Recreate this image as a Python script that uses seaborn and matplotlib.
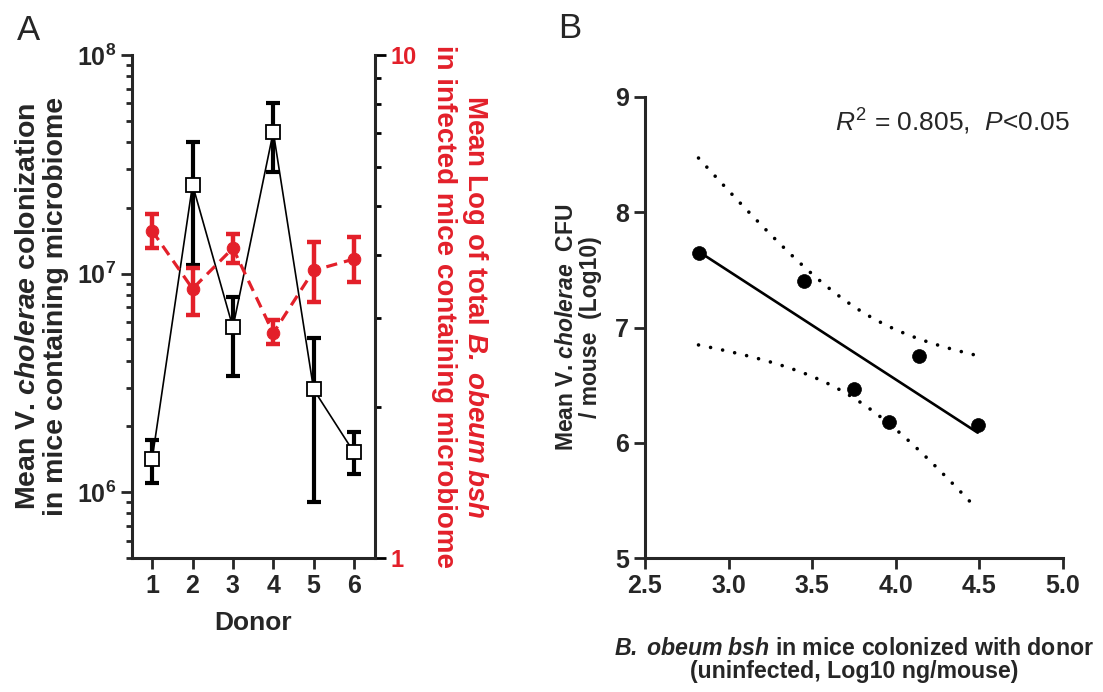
import numpy as np
import pandas as pd
import seaborn as sns
import matplotlib.pyplot as plt
from matplotlib.ticker import LogLocator, FuncFormatter, NullFormatter, FormatStrFormatter, FixedLocator

# Panel A: V. cholerae colonization (left, log) and B. obeum bsh (right, log)
donors = [1, 2, 3, 4, 5, 6]
vc_mean = [1.42e6, 2.55e7, 5.67e6, 4.45e7, 2.95e6, 1.52e6]
vc_upper = [1.73e6, 4.0e7, 7.85e6, 6.04e7, 5.05e6, 1.88e6]
vc_lower = [1.10e6, 1.09e7, 3.39e6, 2.92e7, 9.0e5, 1.21e6]

bsh_mean = [4.47, 3.43, 4.13, 2.80, 3.73, 3.93]
bsh_upper = [4.83, 3.78, 4.41, 2.97, 4.25, 4.35]
bsh_lower = [4.13, 3.04, 3.86, 2.66, 3.23, 3.54]

# Panel B: correlation between donor bsh and V. cholerae CFU
donor_bsh_log = [2.82, 3.45, 3.75, 3.96, 4.14, 4.49]
vc_cfu_log = [7.65, 7.40, 6.47, 6.18, 6.75, 6.15]

RED = '#e3202a'

sns.set_style('ticks')
plt.rcParams['font.family'] = ['Liberation Sans', 'DejaVu Sans']
plt.rcParams['font.weight'] = 'bold'
plt.rcParams['axes.labelweight'] = 'bold'
plt.rcParams['mathtext.fontset'] = 'custom'
plt.rcParams['mathtext.rm'] = 'Liberation Sans:weight=normal'
plt.rcParams['mathtext.it'] = 'Liberation Sans:style=italic:weight=normal'
plt.rcParams['mathtext.bf'] = 'Liberation Sans:weight=bold'
plt.rcParams['mathtext.bfit'] = 'Liberation Sans:style=italic:weight=bold'

fig = plt.figure(figsize=(11.03, 6.92), dpi=100)
W, H = 1103, 692

# ---------------- Panel A ----------------
axA = fig.add_axes([132 / W, 1 - 558 / H, 243 / W, 503 / H])
axA.set_yscale('log')
dfA = pd.DataFrame({'Donor': donors, 'vc': vc_mean, 'bsh': bsh_mean})

vc_m = np.array(vc_mean)
axA.errorbar(donors, vc_mean,
             yerr=[vc_m - np.array(vc_lower), np.array(vc_upper) - vc_m],
             fmt='none', ecolor='black', elinewidth=3, capsize=5, capthick=3, zorder=2)
sns.lineplot(data=dfA, x='Donor', y='vc', ax=axA, color='black', lw=1.2,
             marker='s', markersize=9.5, markerfacecolor='white',
             markeredgecolor='black', markeredgewidth=1.3, zorder=3)

axA.set_xlim(0.5, 6.52)
axA.set_ylim(5e5, 1e8)
axA.set_xticks(donors)
axA.yaxis.set_major_locator(FixedLocator([1e6, 1e7, 1e8]))
axA.yaxis.set_major_formatter(FuncFormatter(lambda v, p: r'$\mathbf{10^{%d}}$' % round(np.log10(v))))
axA.yaxis.set_minor_locator(LogLocator(base=10, subs=np.arange(2, 10)))
axA.yaxis.set_minor_formatter(NullFormatter())
axA.set_xlabel('Donor', fontsize=19, va='center')
axA.xaxis.set_label_coords(0.5, -0.129)
axA.set_ylabel('Mean V. $\\mathbfit{cholerae}$ colonization\nin mice containing microbiome',
               fontsize=20.5, linespacing=1.08, va='center')
axA.yaxis.set_label_coords(-0.37, 0.5)

axR = axA.twinx()
axR.set_yscale('log')
bsh_m = np.array(bsh_mean)
axR.errorbar(donors, bsh_mean,
             yerr=[bsh_m - np.array(bsh_lower), np.array(bsh_upper) - bsh_m],
             fmt='none', ecolor=RED, elinewidth=3.2, capsize=5, capthick=3.2, zorder=2)
sns.lineplot(data=dfA, x='Donor', y='bsh', ax=axR, color=RED, lw=2.3,
             linestyle=(0, (3.5, 2.2)), marker='o', markersize=9,
             markeredgecolor=RED, markerfacecolor=RED, zorder=3)
axR.set_ylim(1, 10)
axR.yaxis.set_major_locator(FixedLocator([1, 10]))
axR.yaxis.set_major_formatter(FuncFormatter(lambda v, p: '%d' % v))
axR.yaxis.set_minor_locator(LogLocator(base=10, subs=np.arange(2, 10)))
axR.yaxis.set_minor_formatter(NullFormatter())
axR.set_ylabel('Mean Log of total $\\mathbfit{B.\\;obeum\\;bsh}$\nin infected mice containing microbiome',
               fontsize=20, color=RED, rotation=270, linespacing=1.15, va='center')
axR.yaxis.set_label_coords(1.35, 0.5)

for ax in (axA, axR):
    ax.tick_params(which='major', length=8, width=2, direction='out')
    ax.tick_params(which='minor', length=4.5, width=2, direction='out')
    ax.spines['top'].set_visible(False)
    for s in ax.spines.values():
        s.set_linewidth(2.2)
axA.tick_params(axis='x', labelsize=18)
axA.tick_params(axis='y', labelsize=18)
axA.spines['right'].set_visible(False)
axR.spines['left'].set_visible(False)
axR.spines['bottom'].set_visible(False)
axR.tick_params(axis='y', which='both', color='black', labelcolor=RED, labelsize=17)

# ---------------- Panel B ----------------
axB = fig.add_axes([645 / W, 1 - 558 / H, 418 / W, 461 / H])
dfB = pd.DataFrame({'bsh': donor_bsh_log, 'cfu': vc_cfu_log})

# linear fit with 95% confidence band
x = np.array(donor_bsh_log)
y = np.array(vc_cfu_log)
slope, intercept = np.polyfit(x, y, 1)
xs = np.linspace(x.min(), x.max(), 200)
fit = intercept + slope * xs
resid = y - (intercept + slope * x)
s_res = np.sqrt(np.sum(resid ** 2) / (len(x) - 2))
t_crit = 2.776  # t(0.975, df=4)
se = s_res * np.sqrt(1 / len(x) + (xs - x.mean()) ** 2 / np.sum((x - x.mean()) ** 2))

sns.lineplot(x=xs, y=fit, ax=axB, color='black', lw=1.9, zorder=3)
for band in (fit + t_crit * se, fit - t_crit * se):
    axB.plot(xs, band, color='black', lw=2.6, linestyle=(0, (0.01, 3.4)),
             dash_capstyle='round', zorder=2)
sns.scatterplot(data=dfB, x='bsh', y='cfu', ax=axB, color='black', s=100,
                edgecolor='black', linewidth=0.5, zorder=4)

axB.set_xlim(2.5, 5.0)
axB.set_ylim(5, 9)
axB.set_xticks([2.5, 3.0, 3.5, 4.0, 4.5, 5.0])
axB.set_yticks([5, 6, 7, 8, 9])
axB.xaxis.set_major_formatter(FormatStrFormatter('%.1f'))
axB.tick_params(which='major', length=8, width=2, direction='out', labelsize=18)
sns.despine(ax=axB)
for s in axB.spines.values():
    s.set_linewidth(2.2)

axB.set_xlabel('$\\mathbfit{B.\\;obeum\\;bsh}$ in mice colonized with donor\n(uninfected, Log10 ng/mouse)',
               fontsize=16.7, linespacing=1.0, va='center')
axB.xaxis.set_label_coords(0.5, -0.221)
axB.set_ylabel('Mean V. $\\mathbfit{cholerae}$  CFU\n/ mouse  (Log10)',
               fontsize=16.5, linespacing=1.05, va='center')
axB.yaxis.set_label_coords(-0.16, 0.5)

axB.text(0.455, 0.946, r'$\mathit{R}^{2}$ = 0.805,  $\mathit{P}$<0.05',
         transform=axB.transAxes, fontsize=19, fontweight='normal', ha='left', va='center')

# panel letters
fig.text(17 / W, 1 - 40 / H, 'A', fontsize=25, fontweight='normal', va='baseline')
fig.text(558 / W, 1 - 38 / H, 'B', fontsize=25, fontweight='normal', va='baseline')

fig.savefig('out.png', dpi=100)
